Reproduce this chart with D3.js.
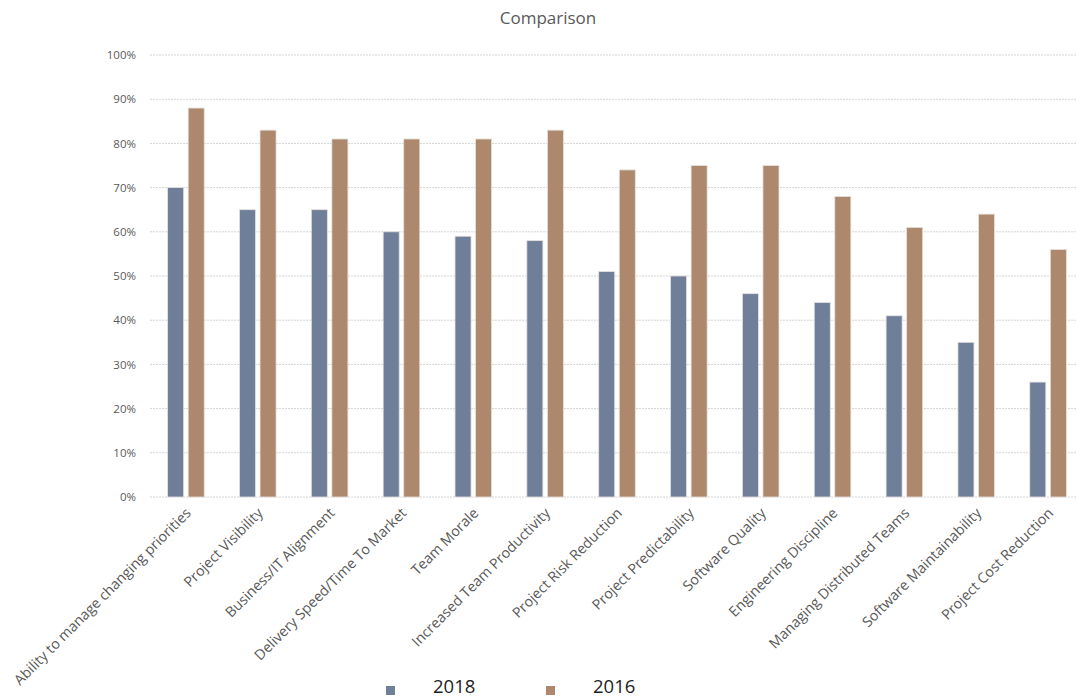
<!DOCTYPE html>
<html>
<head>
<meta charset="utf-8">
<script src="https://cdn.jsdelivr.net/npm/d3@7"></script>
<style>
  body { margin: 0; background: #fff; overflow: hidden; }
  text { font-family: "Open Sans", "Liberation Sans", sans-serif; }
</style>
</head>
<body>
<svg width="1077" height="700"></svg>
<script>
const categories = [
    'Ability to manage changing priorities',
    'Project Visibility',
    'Business/IT Alignment',
    'Delivery Speed/Time To Market',
    'Team Morale',
    'Increased Team Productivity',
    'Project Risk Reduction',
    'Project Predictability',
    'Software Quality',
    'Engineering Discipline',
    'Managing Distributed Teams',
    'Software Maintainability',
    'Project Cost Reduction',
];
const series = ['2018', '2016'];
const values2018 = [70, 65, 65, 60, 59, 58, 51, 50, 46, 44, 41, 35, 26];
const values2016 = [88, 83, 81, 81, 81, 83, 74, 75, 75, 68, 61, 64, 56];
const yTicks = [0, 10, 20, 30, 40, 50, 60, 70, 80, 90, 100];

const colors = { '2018': '#6f7f99', '2016': '#ae886c' };

const data = categories.map((c, i) => ({
    category: c,
    '2018': values2018[i],
    '2016': values2016[i],
}));

const svg = d3.select('svg');
// the plot runs a little past the right edge of the picture, like the original
const margin = { left: 150, right: -7, top: 55, bottom: 203 };
const width = 1077 - margin.left - margin.right;
const height = 700 - margin.top - margin.bottom;

const g = svg.append('g')
    .attr('transform', 'translate(' + margin.left + ',' + margin.top + ')');

const x = d3.scaleBand().domain(categories).range([0, width]);
const mid = x.bandwidth() / 2;
const xInner = d3.scaleBand().domain(series).range([mid - 18.3, mid + 18.3]).paddingInner(0.22);
const y = d3.scaleLinear().domain([0, 100]).range([height, 0]);

// gridlines
g.append('g')
    .selectAll('line')
    .data(yTicks)
    .enter()
    .append('line')
    .attr('x1', 0)
    .attr('x2', width)
    .attr('y1', d => y(d))
    .attr('y2', d => y(d))
    .attr('stroke', '#d4d4d4')
    .attr('stroke-dasharray', '2,1');

// y axis
const yAxis = g.append('g')
    .call(d3.axisLeft(y).tickValues(yTicks).tickFormat(d => d + '%').tickSize(0).tickPadding(14));
yAxis.select('.domain').remove();
yAxis.selectAll('text')
    .attr('fill', '#595959')
    .style('font-size', '11.5px');

// bars
const groups = g.selectAll('.grp')
    .data(data)
    .enter()
    .append('g')
    .attr('class', 'grp')
    .attr('transform', d => 'translate(' + x(d.category) + ',0)');

groups.selectAll('rect')
    .data(d => series.map(s => ({ key: s, value: d[s] })))
    .enter()
    .append('rect')
    .attr('x', d => xInner(d.key))
    .attr('y', d => y(d.value))
    .attr('width', xInner.bandwidth())
    .attr('height', d => height - y(d.value))
    .attr('fill', d => colors[d.key])
    .attr('stroke', '#e6e2de')
    .attr('stroke-width', 0.8);

// x labels
const xAxis = g.append('g')
    .attr('transform', 'translate(0,' + height + ')')
    .call(d3.axisBottom(x).tickSize(0).tickPadding(0));
xAxis.select('.domain').remove();
xAxis.selectAll('text')
    .attr('fill', '#595959')
    .style('font-size', '14.3px')
    .style('text-anchor', 'end')
    .attr('dy', 0)
    .attr('transform', 'translate(6,17) rotate(-45)');

// title
svg.append('text')
    .attr('x', 548)
    .attr('y', 24)
    .attr('text-anchor', 'middle')
    .attr('fill', '#595959')
    .style('font-size', '17px')
    .text('Comparison');

// legend
const legend = svg.append('g')
    .attr('transform', 'translate(386,693)');
const legendX = d3.scaleOrdinal().domain(series).range([0, 160]);
const items = legend.selectAll('g')
    .data(series)
    .enter()
    .append('g')
    .attr('transform', d => 'translate(' + legendX(d) + ',0)');
items.append('rect')
    .attr('x', 0)
    .attr('y', -7)
    .attr('width', 9)
    .attr('height', 9)
    .attr('fill', d => colors[d]);
items.append('text')
    .attr('x', 47)
    .attr('y', 0)
    .attr('fill', '#222')
    .style('font-size', '18.5px')
    .text(d => d);
</script>
</body>
</html>
